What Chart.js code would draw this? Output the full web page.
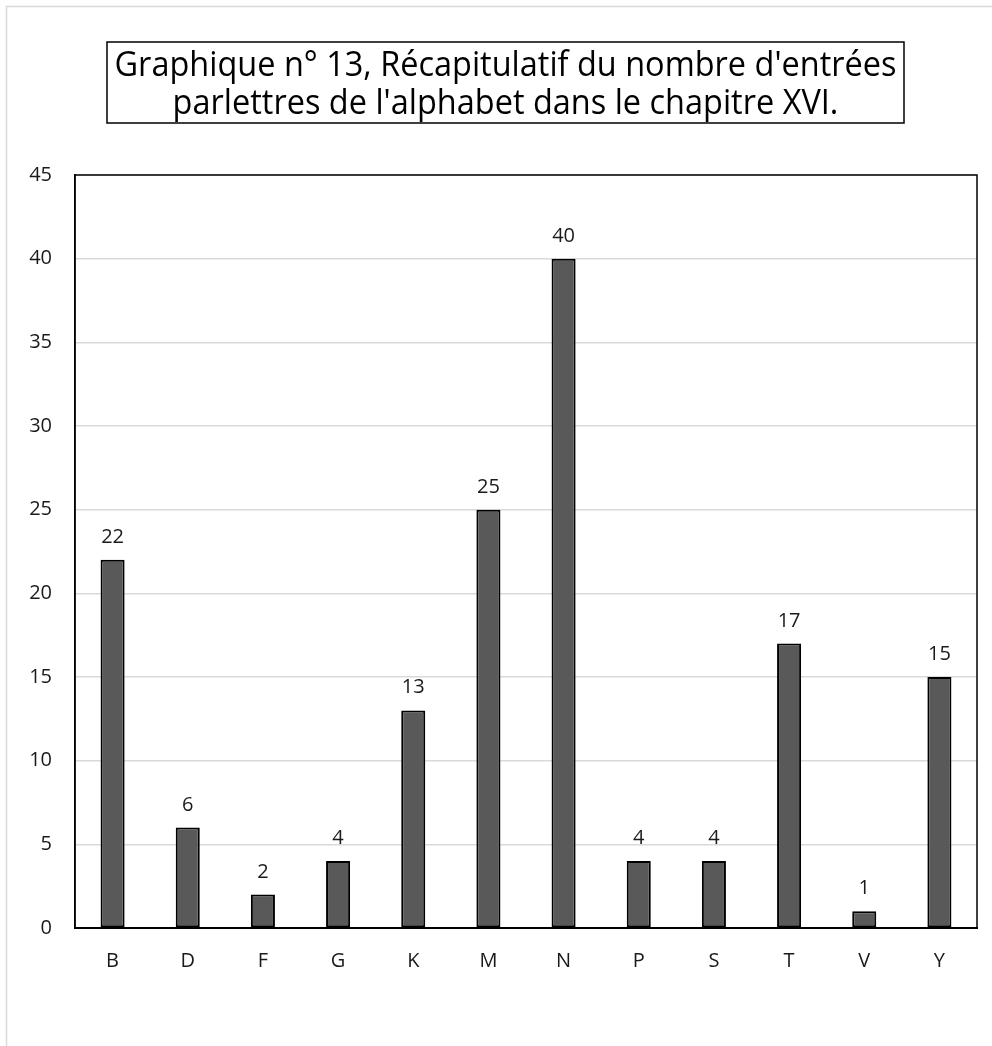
<!DOCTYPE html>
<html>
<head>
<meta charset="utf-8">
<script src="https://cdn.jsdelivr.net/npm/chart.js@4.4.1/dist/chart.umd.min.js"></script>
<style>
  html, body { margin: 0; padding: 0; background: #fff; }
  #wrap { width: 992px; height: 1046px; position: relative; }
</style>
</head>
<body>
<div id="wrap"><canvas id="chart"></canvas></div>
<script>
// data
const letters = ["B", "D", "F", "G", "K", "M", "N", "P", "S", "T", "V", "Y"];
const entries = [22, 6, 2, 4, 13, 25, 40, 4, 4, 17, 1, 15];
const yMax = 45;
const yStep = 5;
const titleLines = [
  "Graphique n° 13, Récapitulatif du nombre d'entrées",
  "parlettres de l'alphabet dans le chapitre XVI."
];

const FONT = "'Open Sans', 'Noto Sans', sans-serif";
const textColor = "#1a1a1a";

// title box + outer frame + plot frame + value labels
const decorPlugin = {
  id: "decor",
  beforeDraw(chart) {
    const ctx = chart.ctx;
    ctx.save();
    ctx.fillStyle = "#fff";
    ctx.fillRect(0, 0, chart.width, chart.height);
    ctx.strokeStyle = "#d9d9d9";
    ctx.lineWidth = 1.5;
    ctx.strokeRect(6.5, 6.5, chart.width + 20, chart.height + 20);
    ctx.restore();
  },
  afterDraw(chart) {
    const ctx = chart.ctx;
    const area = chart.chartArea;
    ctx.save();

    // plot frame
    ctx.strokeStyle = "#000";
    ctx.lineWidth = 1.5;
    ctx.strokeRect(area.left, area.top, area.right - area.left, area.bottom - area.top);

    // title box
    ctx.lineWidth = 1.5;
    ctx.strokeRect(107, 42, 797, 81);

    // title: tall font squeezed sideways, like the narrow original face
    ctx.font = "34px " + FONT;
    const w = ctx.measureText(titleLines[0]).width;
    const sx = 782 / w;
    ctx.fillStyle = "#000";
    ctx.textAlign = "center";
    ctx.textBaseline = "middle";
    [66, 104].forEach((y, i) => {
      ctx.save();
      ctx.translate(505.5, y);
      ctx.scale(sx, 1);
      ctx.fillText(titleLines[i], 0, 0);
      ctx.restore();
    });

    // value labels above bars
    const meta = chart.getDatasetMeta(0);
    ctx.font = "20px " + FONT;
    ctx.fillStyle = textColor;
    ctx.textBaseline = "alphabetic";
    meta.data.forEach((bar, i) => {
      ctx.fillText(String(entries[i]), bar.x, bar.y - 17);
    });
    ctx.restore();
  }
};

const ctx = document.getElementById("chart").getContext("2d");
const chart = new Chart(ctx, {
  type: "bar",
  data: {
    labels: letters,
    datasets: [{
      data: entries,
      backgroundColor: "#595959",
      borderColor: "#000",
      borderWidth: 2,
      borderSkipped: false,
      categoryPercentage: 1,
      barPercentage: 0.32
    }]
  },
  options: {
    responsive: true,
    maintainAspectRatio: false,
    animation: false,
    devicePixelRatio: 1,
    layout: { padding: { top: 175, right: 15, left: 10, bottom: 58 } },
    plugins: {
      legend: { display: false },
      title: { display: false },
      tooltip: { enabled: false }
    },
    scales: {
      x: {
        grid: { display: false, drawTicks: false },
        border: { color: "#000", width: 2 },
        ticks: { color: textColor, font: { family: FONT, size: 20 }, padding: 21 },
        afterFit(scale) { scale.height = 60; }
      },
      y: {
        min: 0,
        max: yMax,
        grid: { color: "#d9d9d9", lineWidth: 1.5, drawTicks: false },
        border: { color: "#000", width: 1.5 },
        ticks: { stepSize: yStep, color: textColor, font: { family: FONT, size: 20 }, padding: 23 },
        afterFit(scale) { scale.width = 65; }
      }
    }
  },
  plugins: [decorPlugin]
});
</script>
</body>
</html>
